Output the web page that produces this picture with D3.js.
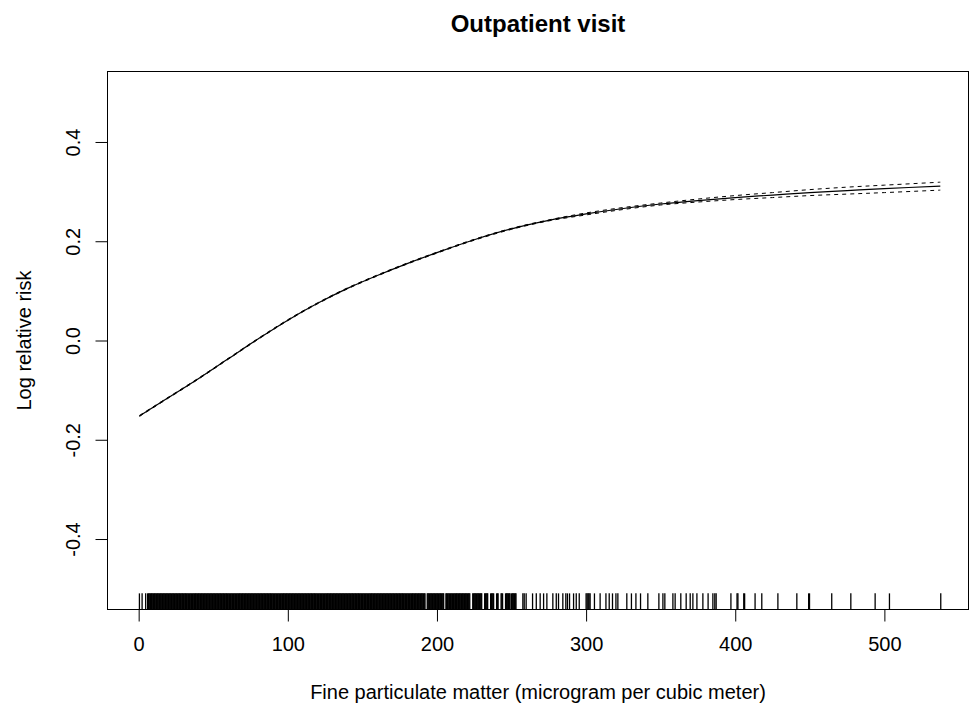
<!DOCTYPE html>
<html>
<head>
<meta charset="utf-8">
<script src="https://cdn.jsdelivr.net/npm/d3@7"></script>
<style>
  html, body { margin: 0; padding: 0; background: #fff; }
  svg { display: block; font-family: "Liberation Sans", Arial, sans-serif; }
</style>
</head>
<body>
<svg id="chart" width="970" height="709"></svg>
<script>
// ---- data ----
const titleText = "Outpatient visit";
const xLabel = "Fine particulate matter (microgram per cubic meter)";
const yLabel = "Log relative risk";
const xTicks = [0, 100, 200, 300, 400, 500];
const yTicks = [-0.4, -0.2, 0.0, 0.2, 0.4];
const yTickLabels = ["-0.4", "-0.2", "0.0", "0.2", "0.4"];

// fitted curve (PM2.5, log RR)
const pm = [0.5, 20, 40, 60, 80, 100, 120, 140, 160, 180, 200, 225, 250, 275, 300, 325, 350, 375, 400, 425, 450, 475, 500, 537.5];
const fit = [-0.152, -0.115, -0.077, -0.037, 0.003, 0.041, 0.075, 0.105, 0.131, 0.155, 0.177, 0.203, 0.225, 0.242, 0.255, 0.266, 0.275, 0.282, 0.288, 0.293, 0.298, 0.302, 0.306, 0.311];
const upper = [-0.151, -0.114, -0.076, -0.036, 0.004, 0.042, 0.076, 0.106, 0.132, 0.156, 0.178, 0.204, 0.226, 0.243, 0.257, 0.268, 0.277, 0.285, 0.292, 0.298, 0.304, 0.309, 0.313, 0.319];
const lower = [-0.153, -0.116, -0.078, -0.038, 0.002, 0.040, 0.074, 0.104, 0.130, 0.154, 0.176, 0.202, 0.224, 0.241, 0.253, 0.264, 0.273, 0.279, 0.284, 0.288, 0.292, 0.295, 0.298, 0.303];

// observed PM2.5 values (rug)
const rug = [0.5, 2.3, 4.7,
  6, 6.5, 7, 7.5, 8, 8.5, 9, 9.5, 10, 10.5, 11, 11.5, 12, 12.5, 13, 13.5, 14, 14.5, 15, 15.5, 16, 16.5,
  17, 17.5, 18, 18.5, 19, 19.5, 20, 20.5, 21, 21.5, 22, 22.5, 23, 23.5, 24, 24.5, 25, 25.5, 26, 26.5,
  27, 27.5, 28, 28.5, 29, 29.5, 30, 30.5, 31, 31.5, 32, 32.5, 33, 33.5, 34, 34.5, 35, 35.5, 36, 36.5,
  37, 37.5, 38, 38.5, 39, 39.5, 40, 40.5, 41, 41.5, 42, 42.5, 43, 43.5, 44, 44.5, 45, 45.5, 46, 46.5,
  47, 47.5, 48, 48.5, 49, 49.5, 50, 50.5, 51, 51.5, 52, 52.5, 53, 53.5, 54, 54.5, 55, 55.5, 56, 56.5,
  57, 57.5, 58, 58.5, 59, 59.5, 60, 60.5, 61, 61.5, 62, 62.5, 63, 63.5, 64, 64.5, 65, 65.5, 66, 66.5,
  67, 67.5, 68, 68.5, 69, 69.5, 70, 70.5, 71, 71.5, 72, 72.5, 73, 73.5, 74, 74.5, 75, 75.5, 76, 76.5,
  77, 77.5, 78, 78.5, 79, 79.5, 80, 80.5, 81, 81.5, 82, 82.5, 83, 83.5, 84, 84.5, 85, 85.5, 86, 86.5,
  87, 87.5, 88, 88.5, 89, 89.5, 90, 90.5, 91, 91.5, 92, 92.5, 93, 93.5, 94, 94.5, 95, 95.5, 96, 96.5,
  97, 97.5, 98, 98.5, 99, 99.5, 100, 100.5, 101, 101.5, 102, 102.5, 103, 103.5, 104, 104.5, 105, 105.5,
  106, 106.5, 107, 107.5, 108, 108.5, 109, 109.5, 110, 110.5, 111, 111.5, 112, 112.5, 113, 113.5, 114,
  114.5, 115, 115.5, 116, 116.5, 117, 117.5, 118, 118.5, 119, 119.5, 120, 120.5, 121, 121.5, 122, 122.5,
  123, 123.5, 124, 124.5, 125, 125.5, 126, 126.5, 127, 127.5, 128, 128.5, 129, 129.5, 130, 130.5, 131,
  131.5, 132, 132.5, 133, 133.5, 134, 134.5, 135, 135.5, 136, 136.5, 137, 137.5, 138, 138.5, 139, 139.5,
  140, 140.5, 141, 141.5, 142, 142.5, 143, 143.5, 144, 144.5, 145, 145.5, 146, 146.5, 147, 147.5, 148,
  148.5, 149, 149.5, 150, 150.5, 151, 151.5, 152, 152.5, 153, 153.5, 154, 154.5, 155, 155.5, 156, 156.5,
  157, 157.5, 158, 158.5, 159, 159.5, 160, 160.5, 161, 161.5, 162, 162.5, 163, 163.5, 164, 164.5, 165,
  165.5, 166, 166.5, 167, 167.5, 168, 168.5, 169, 169.5, 170, 170.5, 171, 171.5, 172, 172.5, 173, 173.5,
  174, 174.5, 175, 175.5, 176, 176.5, 177, 177.5, 178, 178.5, 179, 179.5, 180, 180.5, 181, 181.5, 182,
  182.5, 183, 183.5, 184, 184.5, 185, 185.5, 186, 186.5, 187, 187.5, 188, 188.5, 189, 189.5, 190, 190.5,
  191, 191.5, 192,
  193.5, 194, 194.5, 195, 195.5, 196, 196.5, 197, 197.5, 198, 198.5, 199, 199.5, 200, 200.5, 201, 201.5,
  202, 202.5, 203, 203.5, 204, 204.5,
  206, 206.5, 207, 207.5, 208, 208.5, 209, 209.5, 210, 210.5, 211, 211.5, 212, 212.5, 213, 213.5, 214,
  214.5, 215, 215.5, 216, 216.5, 217, 217.5, 218, 218.5, 219, 219.5, 220, 220.5, 221, 221.5, 222,
  224, 224.5, 225, 225.5, 226, 226.5, 227, 227.5, 228, 228.5, 229, 229.5, 230,
  232, 232.5, 233, 233.5, 234, 236, 236.5, 237, 237.5, 238, 240, 240.5, 241, 243, 243.5, 244,
  246, 246.5, 247, 247.5, 248, 248.5, 249, 250, 250.5, 251, 251.5, 252, 252.5, 253,
  257.6, 258.5, 259.8, 264.1, 266.6, 269.2, 271.5, 273.7, 277.7, 280, 281.5, 284.4, 286.4, 287.5,
  288.9, 291.6, 293.4, 295.4, 300, 300.7, 301.4, 302, 302.7, 305.6, 309.4, 313.3, 315.5, 317.7, 320, 321.3,
  327.3, 330.4, 333.4, 336.5, 341.4, 348.8, 351.5, 352.8, 358.2, 359.7, 363.5, 367.1, 369.8, 371.6,
  374.3, 378.3, 381.8, 385, 386.3, 387.2, 397.1, 401.2, 401.8, 405.7, 406.3, 413.3, 417.8, 428.6,
  441.3, 449.2, 449.8, 464.7, 477.5, 493.8, 503.4, 537.8];

// ---- layout ----
const svg = d3.select("#chart");
const L = 107.5, R = 968.5, T = 71.5, B = 609.5;

const x = d3.scaleLinear().domain([-20.9, 556.4]).range([L, R]);
const y = d3.scaleLinear().domain([-0.542, 0.542]).range([B, T]);

// box
svg.append("rect")
  .attr("x", L).attr("y", T).attr("width", R - L).attr("height", B - T)
  .attr("fill", "none").attr("stroke", "#000").attr("stroke-width", 1);

// x axis
const xAxis = d3.axisBottom(x).tickValues(xTicks).tickSize(12).tickPadding(15).tickFormat(d3.format("d"));
const gx = svg.append("g").attr("transform", `translate(0,${B})`).call(xAxis);
gx.select(".domain").attr("d", `M${x(xTicks[0])},0H${x(xTicks[xTicks.length-1])}`).attr("stroke", "#000");
gx.selectAll(".tick line").attr("stroke", "#000");
gx.selectAll(".tick text").attr("font-size", 20).attr("fill", "#000")
  .attr("font-family", "Liberation Sans, Arial, sans-serif");

// y axis
const yAxis = d3.axisLeft(y).tickValues(yTicks).tickSize(12).tickFormat((d, i) => yTickLabels[i]);
const gy = svg.append("g").attr("transform", `translate(${L},0)`).call(yAxis);
gy.select(".domain").attr("d", `M0,${y(yTicks[0])}V${y(yTicks[yTicks.length-1])}`).attr("stroke", "#000");
gy.selectAll(".tick line").attr("stroke", "#000");
gy.selectAll(".tick text")
  .attr("font-size", 20).attr("fill", "#000")
  .attr("font-family", "Liberation Sans, Arial, sans-serif")
  .attr("x", null).attr("dy", null)
  .attr("text-anchor", "middle")
  .attr("transform", "translate(-28,0) rotate(-90)");

// rug
const rugH = 0.03 * (B - T);
svg.append("g").selectAll("line").data(rug).join("line")
  .attr("x1", d => x(d)).attr("x2", d => x(d))
  .attr("y1", B).attr("y2", B - rugH)
  .attr("stroke", "#000").attr("stroke-width", 1.3);

// curves
const line = d3.line().x((d, i) => x(pm[i])).y(d => y(d)).curve(d3.curveCatmullRom);
svg.append("path").attr("d", line(fit)).attr("fill", "none").attr("stroke", "#000").attr("stroke-width", 1.2);
svg.append("path").attr("d", line(upper)).attr("fill", "none").attr("stroke", "#000").attr("stroke-width", 1).attr("stroke-dasharray", "4,4");
svg.append("path").attr("d", line(lower)).attr("fill", "none").attr("stroke", "#000").attr("stroke-width", 1).attr("stroke-dasharray", "4,4");

// titles
svg.append("text").attr("x", (L + R) / 2).attr("y", 32).attr("text-anchor", "middle")
  .attr("font-size", 24).attr("font-weight", "bold").text(titleText);
svg.append("text").attr("x", (L + R) / 2).attr("y", 699).attr("text-anchor", "middle")
  .attr("font-size", 20).text(xLabel);
svg.append("text").attr("transform", `translate(31,${(T + B) / 2}) rotate(-90)`).attr("text-anchor", "middle")
  .attr("font-size", 20).text(yLabel);
</script>
</body>
</html>
